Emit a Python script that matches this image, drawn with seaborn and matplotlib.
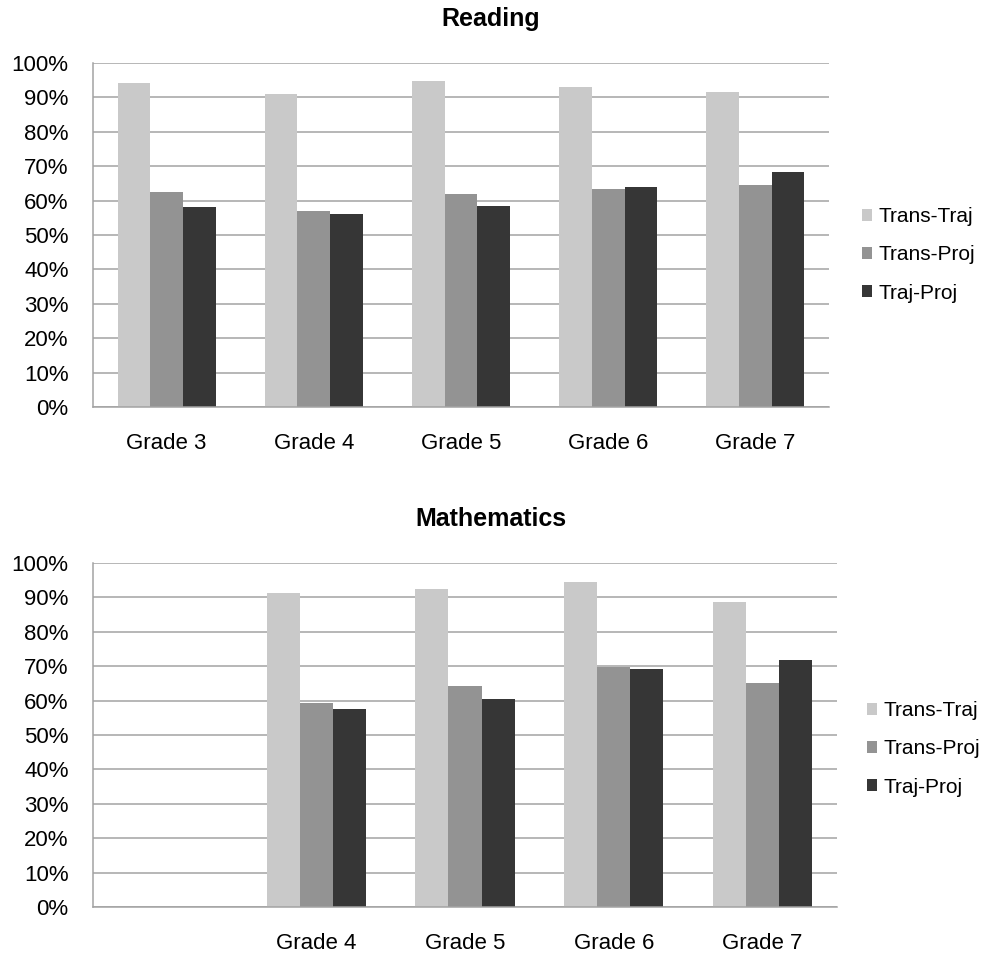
"""
Agreement between growth model pairs, by grade, for reading and maths.

Writes out.png in the working dir.
"""

import matplotlib

matplotlib.use("Agg")

import pandas as pd
import seaborn as sns
from matplotlib import pyplot as plt
from matplotlib.ticker import FixedLocator, MultipleLocator, PercentFormatter

# Model pairs and their bar colours (grey scale, light to dark)
PAIRS = ["Trans-Traj", "Trans-Proj", "Traj-Proj"]
PAIR_COLOURS = ["#C9C9C9", "#939393", "#363636"]

# Reading values (fractions)
READING_GRADES = ["Grade 3", "Grade 4", "Grade 5", "Grade 6", "Grade 7"]
READING_TRANS_TRAJ = [0.942, 0.910, 0.948, 0.931, 0.917]
READING_TRANS_PROJ = [0.625, 0.571, 0.618, 0.634, 0.645]
READING_TRAJ_PROJ = [0.581, 0.561, 0.585, 0.639, 0.682]

# Maths has no grade 3 - first slot stays empty with a blank label
MATH_ORDER = ["", "Grade 4", "Grade 5", "Grade 6", "Grade 7"]
MATH_GRADES = ["Grade 4", "Grade 5", "Grade 6", "Grade 7"]
MATH_TRANS_TRAJ = [0.914, 0.923, 0.944, 0.886]
MATH_TRANS_PROJ = [0.593, 0.642, 0.699, 0.651]
MATH_TRAJ_PROJ = [0.575, 0.606, 0.693, 0.718]

GRID_COLOUR = "#A3A3A3"
FIG_W, FIG_H = 982, 958


def to_long(grades, *series):
    """Stack the per-pair lists into one long table for seaborn."""
    rows = []
    for pair, values in zip(PAIRS, series):
        for grade, value in zip(grades, values):
            rows.append({"grade": grade, "pair": pair, "agreement": value})
    return pd.DataFrame(rows)


def draw_panel(fig, rect_px, df, order, title, title_y, legend_xy):
    """Draw one bar panel; rect_px is (left, top, right, bottom) in pixels."""
    left, top, right, bottom = rect_px
    ax = fig.add_axes(
        [left / FIG_W, 1 - bottom / FIG_H, (right - left) / FIG_W, (bottom - top) / FIG_H]
    )
    sns.barplot(
        data=df,
        x="grade",
        y="agreement",
        hue="pair",
        order=order,
        hue_order=PAIRS,
        palette=PAIR_COLOURS,
        saturation=1,
        width=0.667,
        linewidth=0,
        errorbar=None,
        ax=ax,
    )
    ax.set(xlabel="", ylabel="")
    ax.set_xlim(-0.5, len(order) - 0.5)
    ax.set_ylim(0, 1)

    # Gridlines every 10%, behind the bars
    ax.yaxis.set_major_locator(MultipleLocator(0.1))
    ax.yaxis.set_major_formatter(PercentFormatter(1.0, decimals=0))
    ax.set_axisbelow(True)
    ax.grid(axis="y", color=GRID_COLOUR, linewidth=1.1)
    ax.grid(axis="x", visible=False)

    # Category boundary ticks like the spreadsheet original
    ax.xaxis.set_minor_locator(FixedLocator([i - 0.5 for i in range(len(order) + 1)]))
    ax.tick_params(axis="x", which="major", length=0, pad=19, labelsize=16, labelcolor="black")
    ax.tick_params(axis="x", which="minor", length=5, width=1.1, color=GRID_COLOUR)
    ax.tick_params(
        axis="y", which="major", length=4.5, width=1.1, color=GRID_COLOUR,
        pad=13, labelsize=16, labelcolor="black",
    )

    for side in ("top", "right"):
        ax.spines[side].set_visible(False)
    for side in ("left", "bottom"):
        ax.spines[side].set_color(GRID_COLOUR)
        ax.spines[side].set_linewidth(1.1)

    handles, labels = ax.get_legend_handles_labels()
    ax.legend(
        handles,
        labels,
        loc="center left",
        bbox_to_anchor=(legend_xy[0] / FIG_W, 1 - legend_xy[1] / FIG_H),
        bbox_transform=fig.transFigure,
        frameon=False,
        fontsize=15,
        labelcolor="black",
        handlelength=0.48,
        handleheight=0.48,
        handletextpad=0.3,
        labelspacing=0.92,
        borderpad=0,
        borderaxespad=0,
    )

    fig.text(0.5, 1 - title_y / FIG_H, title, ha="center", va="center",
             fontsize=18, fontweight="bold", color="black")
    return ax


sns.set_theme(style="white")
plt.rcParams["font.family"] = ["Liberation Sans", "DejaVu Sans"]

fig = plt.figure(figsize=(FIG_W / 100, FIG_H / 100), dpi=100)

reading_df = to_long(READING_GRADES, READING_TRANS_TRAJ, READING_TRANS_PROJ, READING_TRAJ_PROJ)
math_df = to_long(MATH_GRADES, MATH_TRANS_TRAJ, MATH_TRANS_PROJ, MATH_TRAJ_PROJ)

draw_panel(fig, (93, 63, 829, 407), reading_df, READING_GRADES, "Reading", 19, (862, 255))
draw_panel(fig, (93, 563, 837, 907), math_df, MATH_ORDER, "Mathematics", 519, (867, 749))

fig.savefig("out.png", dpi=100)
